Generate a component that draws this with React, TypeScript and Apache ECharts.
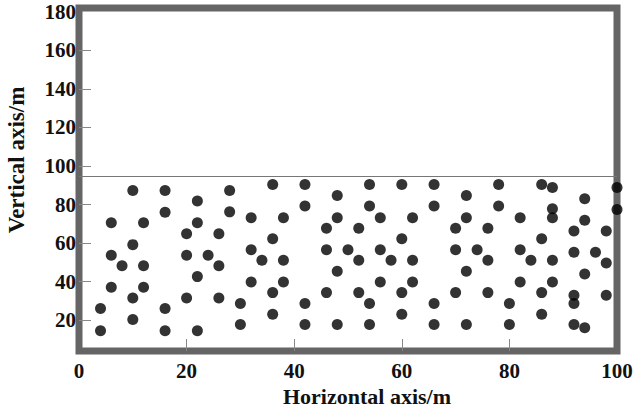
import React, { useEffect, useRef } from "react";
import * as echarts from "echarts";

const xTickLabels = [0, 20, 40, 60, 80, 100];
const yTickLabels = [20, 40, 60, 80, 100, 120, 140, 160, 180];
const yTickMarks = [20, 40, 60, 80, 100, 120, 140, 160];
const xAxisName = "Horizontal axis/m";
const yAxisName = "Vertical axis/m";
const thresholdY = 94.5;

const pointX = [
  10, 16, 16, 22, 6, 12, 22, 20, 10, 6, 20, 24, 8, 12, 22, 6, 12, 10, 20, 4, 16, 10, 4, 16, 22,
  28, 36, 42, 48, 54, 60, 28, 42, 54, 32, 38, 48, 56, 62, 46, 52, 26, 36, 60, 32, 46, 50, 56,
  34, 38, 52, 58, 62, 26, 48, 32, 38, 56, 62, 36, 46, 52, 60, 26, 30, 42, 54, 36, 60, 30, 42, 48, 54,
  66, 78, 86, 88, 100, 72, 94, 66, 78, 88, 100, 72, 82, 88, 94, 70, 76, 92, 98, 86, 70, 74, 82, 92, 96,
  76, 84, 88, 98, 72, 94, 82, 88, 70, 76, 86, 92, 98, 66, 80, 92, 86, 66, 72, 80, 92, 94,
];
const pointY = [
  87.3, 87.3, 76, 81.8, 70.5, 70.5, 70.5, 64.9, 59.2, 53.7, 53.7, 53.7, 48.2, 48.2, 42.6, 37.1, 37.1, 31.5, 31.5, 26, 26, 20.3, 14.5, 14.5, 14.5,
  87.3, 90.4, 90.4, 84.7, 90.4, 90.4, 76.2, 79.2, 79.2, 73.2, 73.2, 73.2, 73.2, 73.2, 67.7, 67.7, 64.9, 62.2, 62.2, 56.6, 56.6, 56.6, 56.6,
  51.1, 51.1, 51.1, 51.1, 51.1, 48.2, 45.4, 39.8, 39.8, 39.8, 39.8, 34.3, 34.3, 34.3, 34.3, 31.5, 28.6, 28.6, 28.6, 23.1, 23.1, 17.7, 17.7, 17.7, 17.7,
  90.4, 90.4, 90.4, 88.8, 88.8, 84.7, 83.0, 79.2, 79.2, 77.8, 77.4, 73.2, 73.2, 73.2, 71.9, 67.7, 67.7, 66.3, 66.3, 62.2, 56.6, 56.6, 56.6, 55.3, 55.3,
  51.1, 51.1, 51.1, 49.7, 45.4, 44.0, 39.8, 39.8, 34.3, 34.3, 34.3, 32.9, 32.9, 28.6, 28.6, 28.6, 23.1, 17.7, 17.7, 17.7, 17.7, 16.1,
];

const FONT = "Liberation Serif";

export default function App() {
  const ref = useRef<HTMLDivElement>(null);
  useEffect(() => {
    if (!ref.current) return;
    const chart = echarts.init(ref.current, undefined, { renderer: "svg" });
    const data = pointX.map((x, i) => [x, pointY[i]]);
    chart.setOption({
      animation: false,
      backgroundColor: "#ffffff",
      grid: {
        left: 79,
        right: 22,
        top: 8,
        bottom: 57,
        show: true,
        borderColor: "#656565",
        borderWidth: 7,
        backgroundColor: "transparent",
      },
      xAxis: {
        type: "value",
        min: 0,
        max: 100,
        interval: 20,
        splitLine: { show: false },
        axisLine: { show: false },
        axisTick: {
          show: true,
          inside: true,
          length: 12,
          lineStyle: { color: "#888", width: 1 },
          customValues: [20, 40, 60, 80],
        },
        axisLabel: {
          margin: 9,
          color: "#111",
          fontFamily: FONT,
          fontWeight: "bold",
          fontSize: 21,
          showMinLabel: true,
          showMaxLabel: true,
          customValues: xTickLabels,
        },
      },
      yAxis: {
        type: "value",
        min: 4,
        max: 182,
        splitLine: { show: false },
        axisLine: { show: false },
        axisTick: {
          show: true,
          inside: true,
          length: 12,
          lineStyle: { color: "#888", width: 1 },
          customValues: yTickMarks,
        },
        axisLabel: {
          margin: 3,
          color: "#111",
          fontFamily: FONT,
          fontWeight: "bold",
          fontSize: 21,
          customValues: yTickLabels,
        },
      },
      graphic: [
        {
          type: "text",
          x: 367,
          y: 396,
          style: {
            text: xAxisName,
            fontFamily: FONT,
            fontWeight: "bold",
            fontSize: 22,
            fill: "#111",
            align: "center",
            verticalAlign: "middle",
          },
        },
        {
          type: "text",
          x: 16,
          y: 160,
          rotation: Math.PI / 2,
          style: {
            text: yAxisName,
            fontFamily: FONT,
            fontWeight: "bold",
            fontSize: 23,
            fill: "#111",
            align: "center",
            verticalAlign: "middle",
          },
        },
      ],
      series: [
        {
          type: "scatter",
          data,
          symbol: "circle",
          symbolSize: 11,
          clip: false,
          itemStyle: { color: "#000000" },
          markLine: {
            silent: true,
            symbol: ["none", "none"],
            label: { show: false },
            lineStyle: { color: "#777", width: 1, type: "solid" },
            data: [{ yAxis: thresholdY }],
          },
        },
      ],
    });
    return () => chart.dispose();
  }, []);
  return (
    <div
      ref={ref}
      style={{ position: "fixed", left: 0, top: 0, width: 639, height: 408 }}
    />
  );
}
